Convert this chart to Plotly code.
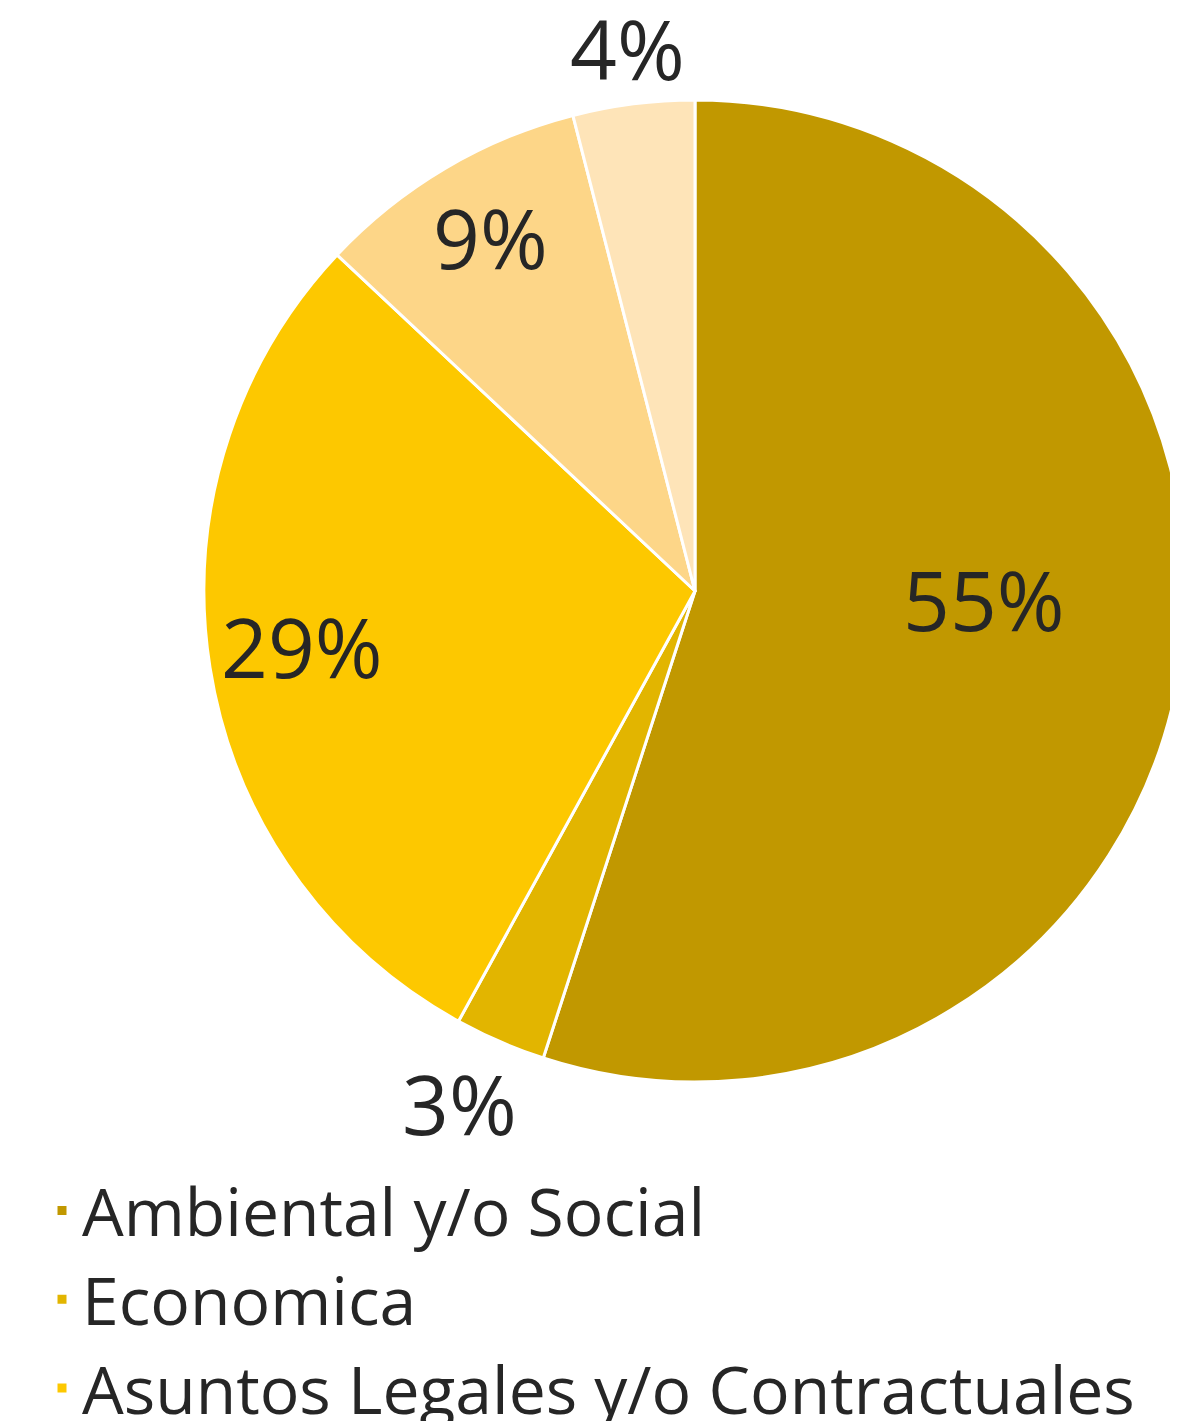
import math
import plotly.graph_objects as go

categories = ["Ambiental y/o Social", "Economica", "Asuntos Legales y/o Contractuales",
              "Categoría 4", "Categoría 5"]
values = [55, 3, 29, 9, 4]
colors = ["#C19800", "#E2B500", "#FDC800", "#FDD688", "#FEE4B8"]
# label placement (style): radius as a fraction of the pie radius, angular nudge in degrees
label_radius = [0.59, 1.16, 0.81, 0.82, 1.10]
label_nudge = [-6, 1, 0, 0, 0]

W, H = 1178, 1640          # window shows the top 1421 px, like the reference
CX, CY = 687, 583          # pie centre in px (figure coords)
R = 491
dom_x = [(CX - R) / W, min(1.0, (CX + R) / W)]
dom_y = [1 - (CY + R) / H, 1 - (CY - R) / H]

fig = go.Figure(go.Pie(
    labels=categories,
    values=values,
    sort=False,
    direction="clockwise",
    rotation=0,
    marker=dict(colors=colors, line=dict(color="white", width=3)),
    textinfo="none",
    domain=dict(x=dom_x, y=dom_y),
    hoverinfo="label+percent",
))

total = sum(values)
cum = 0
annotations = []
for v, rf, nd in zip(values, label_radius, label_nudge):
    mid = (cum + v / 2) / total * 2 * math.pi + math.radians(nd)
    cum += v
    px = CX + rf * R * math.sin(mid)
    py = CY - rf * R * math.cos(mid)
    annotations.append(dict(
        x=px / W, y=1 - py / H, xref="paper", yref="paper",
        text=f"{round(v / total * 100)}%", showarrow=False,
        xanchor="center", yanchor="middle", yshift=7,
        font=dict(family="Open Sans", size=82, color="#262626"),
    ))

fig.update_layout(
    width=W, height=H,
    margin=dict(l=0, r=0, t=0, b=0, autoexpand=False),
    paper_bgcolor="white",
    plot_bgcolor="white",
    font=dict(family="Open Sans", color="#262626"),
    showlegend=True,
    annotations=annotations,
    legend=dict(
        x=34 / W, y=1 - 1153 / H, xanchor="left", yanchor="top",
        font=dict(size=66, color="#262626"),
        bgcolor="rgba(0,0,0,0)",
        traceorder="normal",
    ),
)

fig.write_html(
    "out.html",
    post_script="document.documentElement.style.overflow='hidden';document.body.style.overflow='hidden';",
)
